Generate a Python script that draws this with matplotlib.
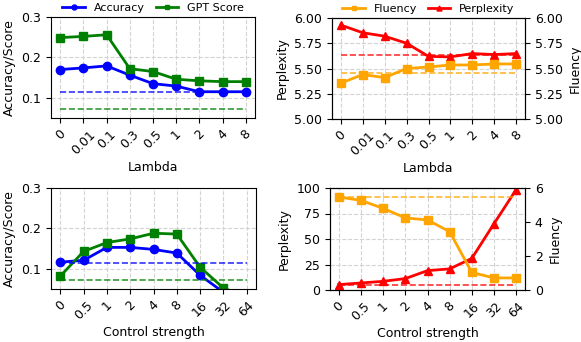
import numpy as np
import matplotlib
matplotlib.use('Agg')
import matplotlib.pyplot as plt
from matplotlib.ticker import FormatStrFormatter

# top row: lambda sweep
lambdas = ['0', '0.01', '0.1', '0.3', '0.5', '1', '2', '4', '8']
acc_lam = [0.170, 0.174, 0.179, 0.156, 0.135, 0.129, 0.115, 0.115, 0.115]
gpt_lam = [0.249, 0.252, 0.256, 0.172, 0.165, 0.146, 0.142, 0.140, 0.140]
ppl_lam = [5.93, 5.854, 5.82, 5.75, 5.62, 5.615, 5.648, 5.638, 5.648]
flu_lam = [5.355, 5.44, 5.41, 5.50, 5.515, 5.535, 5.535, 5.545, 5.545]

# bottom row: control strength sweep
strengths = ['0', '0.5', '1', '2', '4', '8', '16', '32', '64']
acc_cs = [0.1165, 0.121, 0.153, 0.153, 0.148, 0.139, 0.084, 0.042, 0.02]
gpt_cs = [0.082, 0.143, 0.165, 0.174, 0.188, 0.186, 0.104, 0.0525, 0.03]
ppl_cs = [5.3, 6.9, 8.5, 11.2, 19.0, 20.7, 31.0, 65.0, 98.4]
flu_cs = [5.47, 5.27, 4.80, 4.24, 4.12, 3.43, 1.03, 0.71, 0.71]

# baselines (dashed)
acc_base = 0.1155
gpt_base = 0.0735
ppl_base_lam = 5.63
flu_base = 5.46
ppl_base_cs = 4.6
flu_base_cs = 5.49

fs = 9
lw = 2
ms = 6

fig = plt.figure(figsize=(5.81, 3.42), dpi=100)
W, H = 581, 342


def add_axes(x0, y0, x1, y1):
    return fig.add_axes([x0 / W, 1 - y1 / H, (x1 - x0) / W, (y1 - y0) / H])


def style(ax, labels, xlabel):
    x = np.arange(len(labels))
    ax.set_xticks(x)
    ax.set_xticklabels(labels, rotation=45, fontsize=fs)
    ax.tick_params(labelsize=fs)
    ax.grid(True, linestyle='--', color='lightgray', linewidth=0.8)
    ax.set_axisbelow(True)
    ax.set_xlabel(xlabel, fontsize=fs, labelpad=3)


def top_legend(ax, handles, labels):
    ax.legend(handles, labels, loc='center', bbox_to_anchor=(0.5, 1.09), ncol=2,
              frameon=False, fontsize=8, handlelength=2.0, markerscale=0.6,
              columnspacing=1.0, handletextpad=0.8, borderaxespad=0)


def acc_panel(ax, labels, acc, gpt, xlabel, legend):
    x = np.arange(len(labels))
    ax.plot(x, acc, '-o', color='blue', lw=lw, ms=ms, label='Accuracy')
    ax.plot(x, gpt, '-s', color='green', lw=lw, ms=ms, label='GPT Score')
    ax.hlines(acc_base, x[0], x[-1], colors='blue', linestyles='--', lw=1.2, alpha=0.8)
    ax.hlines(gpt_base, x[0], x[-1], colors='green', linestyles='--', lw=1.2, alpha=0.8)
    ax.set_ylim(0.05, 0.3)
    ax.set_yticks([0.1, 0.2, 0.3])
    ax.set_ylabel('Accuracy/Score', fontsize=fs)
    style(ax, labels, xlabel)
    if legend:
        h, l = ax.get_legend_handles_labels()
        top_legend(ax, h, l)


# top left
ax1 = add_axes(51, 17, 255, 118)
acc_panel(ax1, lambdas, acc_lam, gpt_lam, 'Lambda', True)

# top right
ax2 = add_axes(332, 18, 525, 119)
x = np.arange(len(lambdas))
ax2r = ax2.twinx()
ax2.plot(x, ppl_lam, '-^', color='red', lw=lw, ms=ms, label='Perplexity')
ax2.hlines(ppl_base_lam, x[0], x[-1], colors='red', linestyles='--', lw=1.2, alpha=0.8)
ax2r.plot(x, flu_lam, '-s', color='orange', lw=lw, ms=ms, label='Fluency')
ax2r.hlines(flu_base, x[0], x[-1], colors='orange', linestyles='--', lw=1.2, alpha=0.8)
ax2.set_ylim(5.0, 6.0)
ax2r.set_ylim(5.0, 6.0)
ax2.set_yticks([5.0, 5.25, 5.5, 5.75, 6.0])
ax2r.set_yticks([5.0, 5.25, 5.5, 5.75, 6.0])
ax2.yaxis.set_major_formatter(FormatStrFormatter('%.2f'))
ax2r.yaxis.set_major_formatter(FormatStrFormatter('%.2f'))
ax2.set_ylabel('Perplexity', fontsize=fs)
ax2r.set_ylabel('Fluency', fontsize=fs)
ax2r.tick_params(labelsize=fs)
style(ax2, lambdas, 'Lambda')
h1, l1 = ax2r.get_legend_handles_labels()
h2, l2 = ax2.get_legend_handles_labels()
top_legend(ax2, h1 + h2, l1 + l2)

# bottom left
ax3 = add_axes(51, 188, 256, 289)
acc_panel(ax3, strengths, acc_cs, gpt_cs, 'Control strength', False)

# bottom right
ax4 = add_axes(330, 188, 525, 290)
x = np.arange(len(strengths))
ax4r = ax4.twinx()
ax4.plot(x, ppl_cs, '-^', color='red', lw=lw, ms=ms, zorder=3)
ax4.hlines(ppl_base_cs, x[0], x[-1], colors='red', linestyles='--', lw=1.2, alpha=0.8)
ax4r.plot(x, flu_cs, '-s', color='orange', lw=lw, ms=ms)
ax4r.hlines(flu_base_cs, x[0], x[-1], colors='orange', linestyles='--', lw=1.2, alpha=0.8)
ax4.set_ylim(0, 100)
ax4.set_yticks([0, 25, 50, 75, 100])
ax4r.set_ylim(0, 6)
ax4r.set_yticks([0, 2, 4, 6])
ax4.set_ylabel('Perplexity', fontsize=fs)
ax4r.set_ylabel('Fluency', fontsize=fs)
ax4r.tick_params(labelsize=fs)
style(ax4, strengths, 'Control strength')

fig.savefig('out.png', dpi=100)
